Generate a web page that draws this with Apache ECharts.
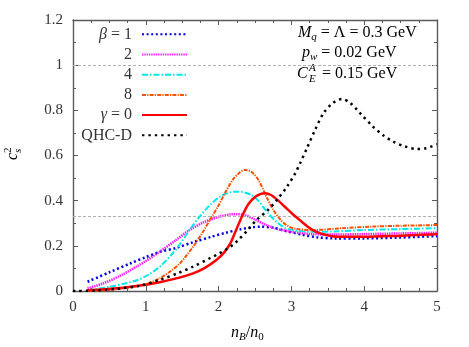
<!DOCTYPE html>
<html><head><meta charset="utf-8">
<script src="https://cdn.jsdelivr.net/npm/echarts@6/dist/echarts.min.js"></script>
<style>html,body{margin:0;padding:0;background:#fff}#c{width:469px;height:347px}</style>
</head><body><div id="c"></div>
<script>
// ---- data ----
const seriesNames = ['β = 1', '2', '4', '8', 'γ = 0', 'QHC-D'];

const xBeta1 = [0.2, 0.5, 0.8, 1.0, 1.2, 1.42, 1.65, 1.9, 2.1, 2.3, 2.45, 2.58, 2.75, 2.95, 3.15, 3.35, 3.6, 4.0, 4.5, 5.0];
const yBeta1 = [0.041, 0.083, 0.124, 0.150, 0.174, 0.191, 0.216, 0.240, 0.258, 0.273, 0.282, 0.285, 0.280, 0.264, 0.249, 0.238, 0.233, 0.233, 0.237, 0.243];

const xBeta2 = [0.2, 0.4, 0.67, 0.9, 1.0, 1.2, 1.4, 1.6, 1.8, 2.0, 2.2, 2.35, 2.5, 2.65, 2.8, 3.0, 3.3, 3.6, 4.0, 4.5, 5.0];
const yBeta2 = [0.012, 0.032, 0.071, 0.113, 0.133, 0.176, 0.222, 0.270, 0.305, 0.328, 0.340, 0.337, 0.316, 0.293, 0.275, 0.262, 0.252, 0.250, 0.252, 0.255, 0.258];

const xBeta4 = [0.2, 0.5, 0.75, 0.9, 1.05, 1.2, 1.35, 1.47, 1.6, 1.74, 1.88, 2.02, 2.15, 2.25, 2.35, 2.45, 2.55, 2.68, 2.8, 2.91, 3.05, 3.3, 3.6, 4.0, 4.5, 5.0];
const yBeta4 = [0.003, 0.018, 0.036, 0.050, 0.075, 0.110, 0.160, 0.208, 0.270, 0.329, 0.380, 0.418, 0.436, 0.440, 0.437, 0.425, 0.398, 0.344, 0.305, 0.280, 0.268, 0.262, 0.264, 0.270, 0.274, 0.278];

const xBeta8 = [0.2, 0.6, 1.0, 1.2, 1.35, 1.47, 1.56, 1.65, 1.77, 1.88, 2.0, 2.11, 2.2, 2.29, 2.36, 2.45, 2.55, 2.66, 2.75, 2.85, 2.95, 3.05, 3.3, 3.7, 4.1, 4.5, 5.0];
const yBeta8 = [0.0, 0.008, 0.030, 0.058, 0.090, 0.123, 0.158, 0.196, 0.254, 0.314, 0.380, 0.447, 0.495, 0.525, 0.536, 0.528, 0.490, 0.415, 0.360, 0.315, 0.288, 0.276, 0.270, 0.278, 0.285, 0.289, 0.292];

const xGamma0 = [0.2, 0.6, 1.0, 1.22, 1.45, 1.65, 1.8, 1.97, 2.08, 2.16, 2.23, 2.29, 2.35, 2.41, 2.5, 2.58, 2.64, 2.72, 2.82, 2.91, 3.02, 3.14, 3.23, 3.32, 3.45, 3.64, 4.0, 4.5, 5.0];
const yGamma0 = [0.003, 0.012, 0.028, 0.041, 0.058, 0.078, 0.100, 0.137, 0.172, 0.211, 0.262, 0.308, 0.350, 0.385, 0.416, 0.430, 0.433, 0.425, 0.400, 0.373, 0.340, 0.307, 0.283, 0.265, 0.250, 0.240, 0.240, 0.245, 0.251];

const xQHCD = [0, 0.3, 0.6, 0.9, 1.2, 1.45, 1.65, 1.88, 2.0, 2.11, 2.2, 2.27, 2.4, 2.52, 2.68, 2.8, 2.94, 3.05, 3.12, 3.21, 3.32, 3.44, 3.56, 3.69, 3.8, 3.95, 4.12, 4.26, 4.4, 4.56, 4.72, 4.85, 5.0];
const yQHCD = [0.0, 0.002, 0.010, 0.022, 0.050, 0.080, 0.108, 0.145, 0.165, 0.185, 0.205, 0.225, 0.270, 0.314, 0.359, 0.403, 0.462, 0.520, 0.566, 0.630, 0.710, 0.787, 0.830, 0.850, 0.835, 0.785, 0.728, 0.690, 0.661, 0.640, 0.629, 0.632, 0.650];

const xTickLabels = ['0', '1', '2', '3', '4', '5'];
const yTickLabels = ['0', '0.2', '0.4', '0.6', '0.8', '1', '1.2'];
const refLines = [1, 1 / 3];

// ---- chart ----
const SERIF = 'Liberation Serif';
function pairs(xs, ys) { return xs.map((x, i) => [x, ys[i]]); }
const xData = [xBeta1, xBeta2, xBeta4, xBeta8, xGamma0, xQHCD];
const yData = [yBeta1, yBeta2, yBeta4, yBeta8, yGamma0, yQHCD];
const styles = [
  { color: '#0000ee', width: 2.5, type: [2, 2.6] },
  { color: '#ff1aff', width: 2.5, type: [1.4, 0.9] },
  { color: '#00e8e8', width: 2, type: [6, 2, 1.5, 2] },
  { color: '#ff4f00', width: 2, type: [4, 1.2, 1.2, 1.2] },
  { color: '#ff0000', width: 2.5, type: 'solid' },
  { color: '#000000', width: 2.5, type: [2.4, 4] }
];

const series = seriesNames.map((name, i) => {
  const s = {
    name: name,
    type: 'line',
    data: pairs(xData[i], yData[i]),
    showSymbol: false,
    symbol: 'none',
    smooth: 0.3,
    color: styles[i].color,
    lineStyle: { color: styles[i].color, width: styles[i].width, type: styles[i].type, cap: 'butt' },
    z: 3 + i
  };
  if (i === 0) {
    s.markLine = {
      silent: true, symbol: ['none', 'none'], animation: false,
      label: { show: false },
      lineStyle: { color: '#b0b0b0', width: 1, type: [3, 2] },
      data: refLines.map(v => ({ yAxis: v }))
    };
  }
  return s;
});

const axisColor = '#5a5a5a';
function makeX(pos, showLabels) {
  return {
    type: 'value', position: pos, min: 0, max: 5, interval: 1,
    axisLine: { show: true, onZero: false, lineStyle: { color: axisColor, width: 1.4 } },
    axisTick: { show: true, inside: true, length: 5, lineStyle: { color: axisColor } },
    minorTick: { show: true, splitNumber: 4, length: 3, lineStyle: { color: axisColor } },
    splitLine: { show: false },
    axisLabel: {
      show: showLabels, margin: 9, color: '#333', fontSize: 15, fontFamily: SERIF,
      formatter: v => xTickLabels[Math.round(v)]
    }
  };
}
function makeY(pos, showLabels) {
  return {
    type: 'value', position: pos, min: 0, max: 1.2, interval: 0.2,
    axisLine: { show: true, onZero: false, lineStyle: { color: axisColor, width: 1.4 } },
    axisTick: { show: true, inside: true, length: 5, lineStyle: { color: axisColor } },
    minorTick: { show: true, splitNumber: 2, length: 3, lineStyle: { color: axisColor } },
    splitLine: { show: false },
    axisLabel: {
      show: showLabels, margin: 10, color: '#333', fontSize: 15, fontFamily: SERIF,
      formatter: v => yTickLabels[Math.round(v / 0.2)]
    }
  };
}

const rich = {
  r: { fontFamily: SERIF, fontSize: 16, lineHeight: 20, color: '#333' },
  i: { fontFamily: SERIF, fontSize: 16, lineHeight: 20, fontStyle: 'italic', color: '#333' },
  sub: { fontFamily: SERIF, fontSize: 11, lineHeight: 11, fontStyle: 'italic', verticalAlign: 'bottom', color: '#333' },
  subr: { fontFamily: SERIF, fontSize: 11, lineHeight: 11, verticalAlign: 'bottom', color: '#333' }
};

function txt(x, y, text, extra) {
  return Object.assign({
    type: 'text', x: x, y: y, silent: true,
    style: { text: text, rich: rich, verticalAlign: 'middle', align: 'left', fontFamily: SERIF }
  }, extra || {});
}

const option = {
  animation: false,
  backgroundColor: '#fff',
  textStyle: { fontFamily: SERIF },
  grid: { left: 73, right: 32, top: 20, bottom: 56, containLabel: false },
  xAxis: [makeX('bottom', true), makeX('top', false)],
  yAxis: [makeY('left', true), makeY('right', false)],
  legend: {
    orient: 'vertical', align: 'right', right: 281, top: 26.3, padding: 0,
    itemWidth: 45, itemHeight: 10, itemGap: 4.2,
    itemStyle: { opacity: 0 },
    selectedMode: false,
    textStyle: {
      fontFamily: SERIF, fontSize: 16, lineHeight: 16, color: '#333', padding: [0, 5, 0, 0],
      rich: {
        g: { fontFamily: SERIF, fontSize: 16, lineHeight: 16, fontStyle: 'italic', color: '#333' },
        t: { fontFamily: SERIF, fontSize: 16, lineHeight: 16, color: '#333' }
      }
    },
    formatter: name => {
      const m = name.match(/^([βγ])(.*)$/);
      return m ? '{g|' + m[1] + '}{t|' + m[2] + '}' : '{t|' + name + '}';
    },
    data: seriesNames
  },
  graphic: [
    // annotation block
    txt(298, 33, '{i|M}{sub|q}{r| = Λ = 0.3 GeV}'),
    txt(302, 53, '{i|p}{sub|w}{r| = 0.02 GeV}'),
    txt(297, 74, '{i|C}'),
    txt(309, 68, '{sub|A}'),
    txt(309, 79, '{sub|E}'),
    txt(318, 74, '{r| = 0.15 GeV}'),
    // x axis name
    txt(231, 333, '{i|n}{sub|B}{r|/}{i|n}{subr|0}'),
    // y axis name (rotated)
    {
      type: 'group', x: 13, y: 160, rotation: Math.PI / 2, silent: true,
      children: [
        txt(0, 0, '{i|c}'),
        txt(7, -5, '{subr|2}'),
        txt(7, 5, '{sub|s}')
      ]
    }
  ],
  series: series
};

const chart = echarts.init(document.getElementById('c'), null, { renderer: 'canvas' });
chart.setOption(option);
</script>
</body></html>
